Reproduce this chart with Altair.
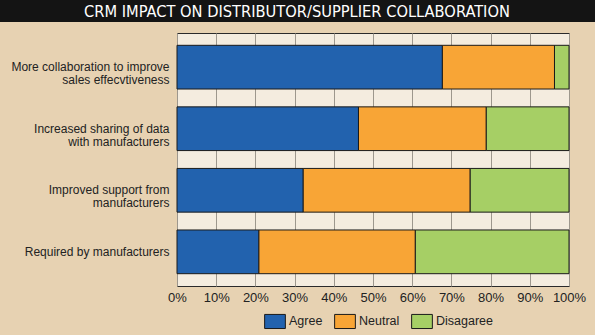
import altair as alt
import pandas as pd

title_text = "CRM IMPACT ON DISTRIBUTOR/SUPPLIER COLLABORATION"
categories = [
    "More collaboration to improve|sales effecvtiveness",
    "Increased sharing of data|with manufacturers",
    "Improved support from|manufacturers",
    "Required by manufacturers",
]
responses = ["Agree", "Neutral", "Disagaree"]
agree = [67.7, 46.3, 32.2, 20.9]
neutral = [28.6, 32.6, 42.6, 39.9]
disagree = [3.7, 21.1, 25.2, 39.2]
colors = ["#2262ae", "#f8a536", "#a6cf65"]
x_ticks = [0, 10, 20, 30, 40, 50, 60, 70, 80, 90, 100]

rows = []
for i, c in enumerate(categories):
    for j, (r, vals) in enumerate(zip(responses, [agree, neutral, disagree])):
        rows.append({"category": c, "response": r, "value": vals[i] / 100, "order": j})
df = pd.DataFrame(rows)

label_font = "Liberation Sans"
W, H = 392, 253
LEFT = 177

bars = alt.Chart(df).mark_bar(stroke="#1a1a1a", strokeWidth=1).encode(
    x=alt.X(
        "value:Q",
        stack="zero",
        scale=alt.Scale(domain=[0, 1], nice=False),
        axis=alt.Axis(
            format="%", values=[t / 100 for t in x_ticks], grid=True,
            gridColor="#9d978d", gridWidth=1, ticks=False, domain=False,
            labelPadding=5, labelFontSize=13, labelColor="#222222",
            labelFont=label_font, title=None, labelFlush=False,
        ),
    ),
    y=alt.Y(
        "category:N",
        sort=categories,
        scale=alt.Scale(paddingInner=0.29, paddingOuter=0.2),
        axis=alt.Axis(
            title=None, ticks=False, domain=False, grid=False,
            labelExpr="split(datum.label, '|')", labelPadding=8,
            labelFontSize=12, labelLimit=0, minExtent=LEFT,
            labelLineHeight=13, labelColor="#222222", labelFont=label_font,
        ),
    ),
    color=alt.Color(
        "response:N",
        sort=responses,
        scale=alt.Scale(domain=responses, range=colors),
        legend=alt.Legend(
            title=None, orient="none", legendX=87, legendY=277,
            direction="horizontal", symbolType="M-1,-0.68H1V0.68H-1Z",
            symbolSize=430, symbolStrokeColor="#1a1a1a", symbolStrokeWidth=1,
            symbolOpacity=1, labelFontSize=12.5, labelColor="#222222",
            labelFont=label_font, columnPadding=9, labelOffset=3,
        ),
    ),
    order=alt.Order("order:Q"),
)

title_df = pd.DataFrame({"t": [title_text]})
title_bar = alt.Chart(title_df).mark_rect(color="#141414").encode(
    x=alt.value(-LEFT), x2=alt.value(595 - LEFT), y=alt.value(-33), y2=alt.value(-11)
)
title_label = alt.Chart(title_df).mark_text(
    font="DejaVu Sans Condensed", fontSize=16.3, color="white", baseline="middle", align="center"
).encode(
    text="t:N", x=alt.value(297 - LEFT), y=alt.value(-21)
)

chart = alt.layer(title_bar, title_label, bars).properties(
    width=W, height=H,
    view=alt.ViewBackground(fill="#f4ecdf", stroke="#2a2a2a", strokeWidth=1),
).configure(
    background="#e7d2b2",
    padding={"left": 0, "top": 0, "right": 0, "bottom": 7},
)

chart.save("out.html", embed_options={"renderer": "svg", "actions": False})
